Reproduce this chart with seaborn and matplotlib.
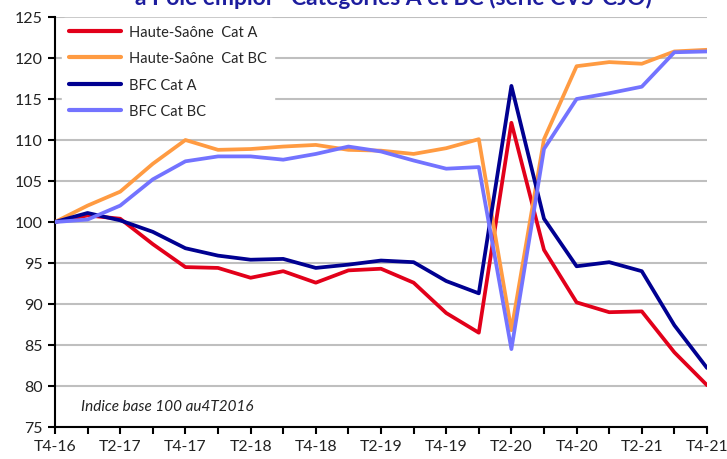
import matplotlib
matplotlib.use("Agg")
import matplotlib.pyplot as plt
import seaborn as sns
import pandas as pd
import numpy as np

quarters = ["T4-16", "T1-17", "T2-17", "T3-17", "T4-17", "T1-18", "T2-18", "T3-18",
            "T4-18", "T1-19", "T2-19", "T3-19", "T4-19", "T1-20", "T2-20", "T3-20",
            "T4-20", "T1-21", "T2-21", "T3-21", "T4-21"]

hs_cat_a = [100.0, 100.8, 100.4, 97.3, 94.5, 94.4, 93.2, 94.0, 92.6, 94.1, 94.3,
            92.6, 88.9, 86.5, 112.1, 96.6, 90.2, 89.0, 89.1, 84.1, 80.1]
hs_cat_bc = [100.0, 102.0, 103.7, 107.1, 110.0, 108.8, 108.9, 109.2, 109.4, 108.8, 108.7,
             108.3, 109.0, 110.1, 86.8, 110.1, 119.0, 119.5, 119.3, 120.8, 121.0]
bfc_cat_a = [100.0, 101.1, 100.2, 98.8, 96.8, 95.9, 95.4, 95.5, 94.4, 94.8, 95.3,
             95.1, 92.8, 91.3, 116.6, 100.4, 94.6, 95.1, 94.0, 87.4, 82.2]
bfc_cat_bc = [100.0, 100.3, 102.0, 105.2, 107.4, 108.0, 108.0, 107.6, 108.3, 109.2, 108.6,
              107.5, 106.5, 106.7, 84.5, 108.9, 115.0, 115.7, 116.5, 120.7, 120.8]

series_names = ["Haute-Saône  Cat A", "Haute-Saône  Cat BC", "BFC Cat A", "BFC Cat BC"]
series_values = [hs_cat_a, hs_cat_bc, bfc_cat_a, bfc_cat_bc]
colors = ["#E2001A", "#FF9B42", "#000091", "#7373FF"]

title_text = "à Pôle emploi - Catégories A et BC (série CVS-CJO)"
note_text = "Indice base 100 au4T2016"
y_ticks = [75, 80, 85, 90, 95, 100, 105, 110, 115, 120, 125]

rows = []
for name, vals in zip(series_names, series_values):
    for i, v in enumerate(vals):
        rows.append({"idx": i, "value": v, "serie": name})
df = pd.DataFrame(rows)

sns.set_theme(style="white")
plt.rcParams["font.family"] = ["Lato", "DejaVu Sans"]

fig = plt.figure(figsize=(7.27, 4.60), dpi=100)
ax = fig.add_axes([55 / 727, 1 - 428 / 460, (707 - 55) / 727, (428 - 18) / 460])

sns.lineplot(data=df, x="idx", y="value", hue="serie", hue_order=series_names,
             palette=colors, linewidth=2.7, ax=ax, legend=True, zorder=3)

ax.set_xlim(0, len(quarters) - 1)
ax.set_ylim(75, 125)
ax.set_yticks(y_ticks)
ax.set_yticklabels([str(t) for t in y_ticks], fontsize=11.5)
ax.set_xticks(range(len(quarters)))
ax.set_xticklabels([q if i % 2 == 0 else "" for i, q in enumerate(quarters)], fontsize=11.3)
ax.set_xlabel("")
ax.set_ylabel("")

ax.yaxis.grid(True, color="#BFBFBF", linewidth=1.5, zorder=0)
ax.xaxis.grid(False)
ax.set_axisbelow(True)
for s in ["top", "right"]:
    ax.spines[s].set_visible(False)
for s in ["left", "bottom"]:
    ax.spines[s].set_color("black")
    ax.spines[s].set_linewidth(1.5)
ax.tick_params(axis="both", which="both", direction="out", length=5, width=1.5,
               color="black", left=True, bottom=True, labelcolor="#222222", pad=4)

leg = ax.legend(loc="upper left", bbox_to_anchor=(0.011, 0.997), borderaxespad=0,
                frameon=True, fontsize=10.5,
                handlelength=3.6, handletextpad=0.55, labelspacing=0.86,
                borderpad=0.45, framealpha=1.0)
leg.get_frame().set_edgecolor("white")
leg.get_frame().set_facecolor("white")
for line in leg.get_lines():
    line.set_linewidth(3)

ax.text(0.04, 0.05, note_text, transform=ax.transAxes, fontsize=11, style="italic",
        color="#222222", ha="left", va="center")

fig.text(393 / 727, 1 - 5 / 460, title_text, ha="center", va="baseline",
         fontsize=16.5, fontweight="bold", color="#1D1D9E")

fig.savefig("out.png", dpi=100)
